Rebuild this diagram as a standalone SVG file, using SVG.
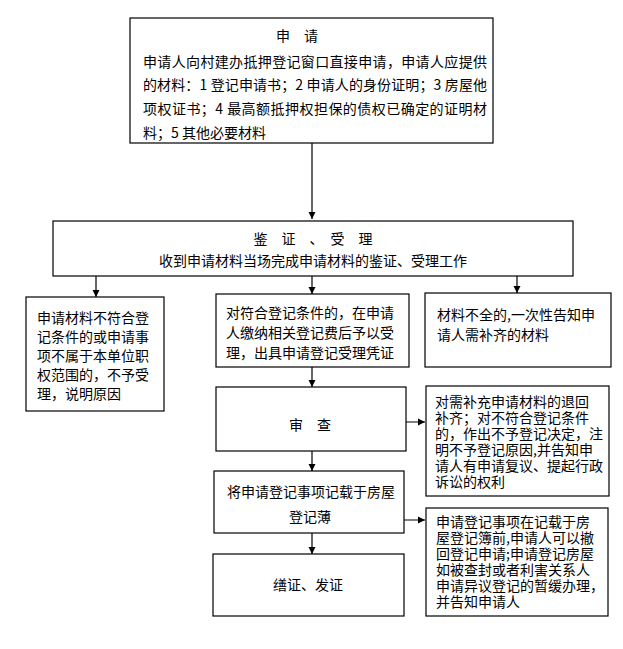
<svg xmlns="http://www.w3.org/2000/svg" width="623" height="649" viewBox="0 0 623 649">
<style>
.box{fill:#fff;stroke:#000;stroke-width:1.2}
text{font-family:"Noto Sans CJK SC","Liberation Sans",sans-serif;font-size:14px;fill:#000}
.c{text-anchor:middle}
.conn{stroke:#000;stroke-width:1.2;fill:none;marker-end:url(#ah)}
.connh{stroke:#555;stroke-width:1.5;fill:none;marker-end:url(#ah)}
</style>
<defs>
<marker id="ah" markerUnits="userSpaceOnUse" markerWidth="8" markerHeight="8" refX="7" refY="4" orient="auto">
<path d="M0,0.5 L7,4 L0,7.5 Z" fill="#000"/>
</marker>
</defs>
<rect width="623" height="649" fill="#fff"/>
<g id="connectors">
<line class="conn" x1="312" y1="143" x2="312" y2="219"/>
<line class="conn" x1="96" y1="276" x2="96" y2="297"/>
<line class="conn" x1="312" y1="276" x2="312" y2="294"/>
<line class="conn" x1="517" y1="276" x2="517" y2="293"/>
<line class="conn" x1="312" y1="367" x2="312" y2="387"/>
<line class="connh" x1="406" y1="422" x2="425" y2="422"/>
<line class="conn" x1="312" y1="451" x2="312" y2="471"/>
<line class="connh" x1="404" y1="520" x2="425" y2="520"/>
<line class="conn" x1="312" y1="533" x2="312" y2="554"/>
</g>
<g id="n1">
<rect class="box" x="130" y="18" width="363" height="125"/>
<text class="c" x="297" y="41">申　请</text>
<text x="143" y="67" textLength="344">申请人向村建办抵押登记窗口直接申请，申请人应提供</text>
<text x="143" y="90" textLength="344">的材料：1 登记申请书；2 申请人的身份证明；3 房屋他</text>
<text x="143" y="114" textLength="344">项权证书；4 最高额抵押权担保的债权已确定的证明材</text>
<text x="143" y="138">料；5 其他必要材料</text>
</g>
<g id="n2">
<rect class="box" x="53" y="221" width="520" height="55"/>
<text class="c" x="313" y="244">鉴　证　、　受　理</text>
<text class="c" x="313" y="266">收到申请材料当场完成申请材料的鉴证、受理工作</text>
</g>
<g id="n3">
<rect class="box" x="26" y="297" width="138" height="114"/>
<text x="37" y="323">申请材料不符合登</text>
<text x="37" y="342">记条件的或申请事</text>
<text x="37" y="361">项不属于本单位职</text>
<text x="37" y="380">权范围的，不予受</text>
<text x="37" y="399">理，说明原因</text>
</g>
<g id="n4">
<rect class="box" x="216" y="294" width="193" height="73"/>
<text x="226" y="318">对符合登记条件的，在申请</text>
<text x="226" y="338">人缴纳相关登记费后予以受</text>
<text x="226" y="358">理，出具申请登记受理凭证</text>
</g>
<g id="n5">
<rect class="box" x="425" y="293" width="186" height="74"/>
<text x="437" y="320">材料不全的,一次性告知申</text>
<text x="437" y="340">请人需补齐的材料</text>
</g>
<g id="n6">
<rect class="box" x="216" y="387" width="190" height="64"/>
<text class="c" x="310" y="430">审　查</text>
</g>
<g id="n7">
<rect class="box" x="426" y="386" width="183" height="110"/>
<text x="435" y="407">对需补充申请材料的退回</text>
<text x="435" y="423">补齐；对不符合登记条件</text>
<text x="435" y="439">的，作出不予登记决定，注</text>
<text x="435" y="455">明不予登记原因,并告知申</text>
<text x="435" y="471">请人有申请复议、提起行政</text>
<text x="435" y="487">诉讼的权利</text>
</g>
<g id="n8">
<rect class="box" x="214" y="471" width="190" height="62"/>
<text x="227" y="497">将申请登记事项记载于房屋</text>
<text class="c" x="310" y="522">登记薄</text>
</g>
<g id="n9">
<rect class="box" x="426" y="508" width="182" height="108"/>
<text x="436" y="527">申请登记事项在记载于房</text>
<text x="436" y="543">屋登记簿前,申请人可以撤</text>
<text x="436" y="559">回登记申请;申请登记房屋</text>
<text x="436" y="575">如被查封或者利害关系人</text>
<text x="436" y="591">申请异议登记的暂缓办理，</text>
<text x="436" y="607">并告知申请人</text>
</g>
<g id="n10">
<rect class="box" x="213" y="554" width="191" height="62"/>
<text class="c" x="308" y="590">缮证、发证</text>
</g>
</svg>
